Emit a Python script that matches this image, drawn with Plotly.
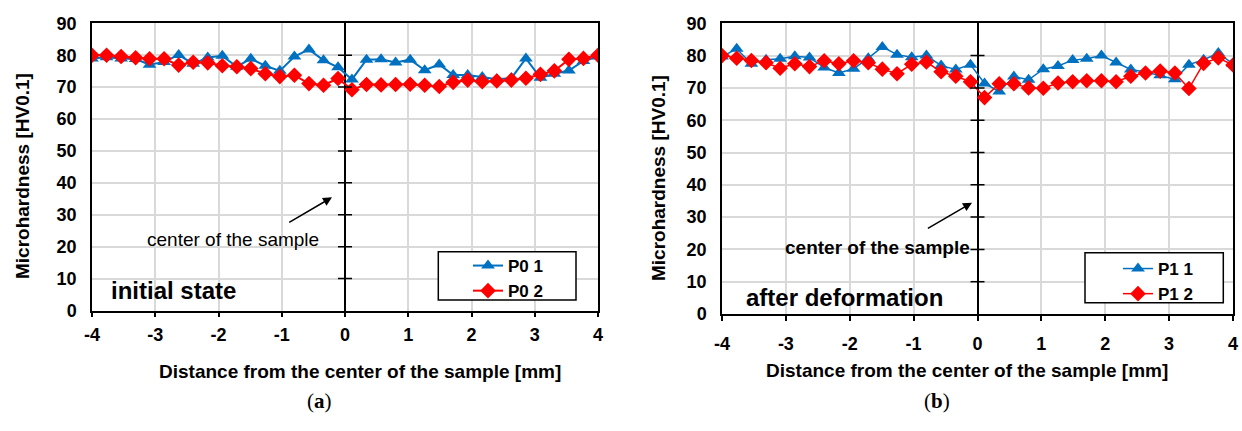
import plotly.graph_objects as go

# ---------------- data ----------------
X_MM = [-4.00, -3.77, -3.54, -3.31, -3.09, -2.86, -2.63, -2.40, -2.17, -1.94,
        -1.71, -1.49, -1.26, -1.03, -0.80, -0.57, -0.34, -0.11, 0.11, 0.34,
        0.57, 0.80, 1.03, 1.26, 1.49, 1.71, 1.94, 2.17, 2.40, 2.63,
        2.86, 3.09, 3.31, 3.54, 3.77, 4.00]

P0_1 = [79.0, 79.4, 79.0, 78.8, 77.0, 77.9, 80.1, 77.3, 79.3, 79.8,
        76.4, 78.9, 76.7, 75.1, 79.6, 81.8, 78.4, 76.2, 72.4, 78.6,
        78.7, 77.7, 78.6, 75.3, 77.1, 73.8, 73.8, 73.2, 72.5, 72.8,
        79.0, 72.9, 74.2, 75.2, 78.2, 79.6]
P0_2 = [80.0, 80.0, 79.6, 79.2, 78.9, 78.9, 76.9, 77.8, 77.6, 76.7,
        76.4, 75.8, 74.2, 73.3, 73.7, 71.1, 70.6, 72.7, 69.2, 70.8,
        70.7, 70.8, 70.9, 70.6, 70.2, 71.5, 72.2, 71.7, 71.9, 72.2,
        72.8, 74.0, 75.1, 78.7, 79.0, 80.0]

P1_1 = [79.7, 82.1, 77.5, 78.7, 79.0, 79.8, 79.4, 76.3, 74.6, 75.9,
        79.2, 82.7, 80.3, 79.5, 80.0, 76.9, 75.7, 77.2, 71.4, 68.9,
        73.5, 72.5, 75.8, 76.8, 78.6, 79.0, 80.0, 77.9, 75.7, 74.9,
        73.9, 72.7, 77.2, 78.7, 80.8, 77.4]
P1_2 = [80.0, 79.2, 78.5, 77.8, 76.1, 77.5, 76.6, 78.4, 77.5, 78.4,
        77.8, 75.8, 74.4, 77.3, 78.0, 75.0, 73.6, 71.9, 67.0, 71.3,
        71.3, 70.0, 69.9, 71.5, 71.9, 72.2, 72.2, 71.9, 73.6, 74.6,
        75.2, 74.6, 69.8, 77.6, 79.3, 77.1]

NAMES_A = ["P0 1", "P0 2"]
NAMES_B = ["P1 1", "P1 2"]
X_TICKS = [-4, -3, -2, -1, 0, 1, 2, 3, 4]
X_TICK_LABELS = ["-4", "-3", "-2", "-1", "0", "1", "2", "3", "4"]
CENTER_TICKS = [10, 20, 30, 40, 50, 60, 70, 80]

# ---------------- layout helpers ----------------
W, H = 1242, 431
def fx(p):
    return p / W
def fy(p):
    return 1 - p / H

FONT = "Liberation Sans, Arial, sans-serif"
SERIF = "Liberation Serif, Times New Roman, serif"
BLUE = "#0070C0"
RED = "#FF0000"

fig = go.Figure()

def add_series(x, y, name, color, symbol, xa, ya, legend, lw):
    fig.add_trace(go.Scatter(
        x=x, y=y, name=name, mode="lines+markers",
        line=dict(color=color, width=lw),
        marker=dict(symbol=symbol, size=12, color=color, line=dict(width=0)),
        xaxis=xa, yaxis=ya, legend=legend, hoverinfo="skip"))

add_series(X_MM, P0_1, NAMES_A[0], BLUE, "triangle-up", "x", "y", "legend", 2)
add_series(X_MM, P0_2, NAMES_A[1], RED, "diamond", "x", "y", "legend", 2)
add_series(X_MM, P1_1, NAMES_B[0], BLUE, "triangle-up", "x2", "y2", "legend2", 1.5)
add_series(X_MM, P1_2, NAMES_B[1], RED, "diamond", "x2", "y2", "legend2", 1.5)

# cross tick marks on the central (x = 0) axis
for xa, ya in (("x", "y"), ("x2", "y2")):
    fig.add_trace(go.Scatter(
        x=[0] * len(CENTER_TICKS), y=CENTER_TICKS, mode="markers",
        marker=dict(symbol="line-ew", size=10, line=dict(width=1.5, color="black")),
        xaxis=xa, yaxis=ya, showlegend=False, hoverinfo="skip"))

tickfont = dict(family=FONT, size=18, color="black", weight="bold")

def xaxis(domain, anchor, standoff):
    return dict(domain=domain, anchor=anchor, range=[-4, 4],
                tickmode="array", tickvals=X_TICKS, ticktext=X_TICK_LABELS,
                showgrid=True, gridcolor="#d9d9d9", gridwidth=1.5,
                zeroline=True, zerolinecolor="black", zerolinewidth=2,
                showline=True, linecolor="black", linewidth=1.5, mirror=True,
                ticks="outside", ticklen=5, tickwidth=1.5, tickcolor="black",
                tickfont=tickfont, ticklabelstandoff=standoff, fixedrange=True)

def yaxis(domain, anchor):
    return dict(domain=domain, anchor=anchor, range=[0, 90], dtick=10, tick0=0,
                showgrid=True, gridcolor="#d9d9d9", gridwidth=1.5,
                zeroline=False, showline=True, linecolor="black", linewidth=1.5,
                mirror=True, ticks="", tickfont=tickfont, ticklabelstandoff=10,
                fixedrange=True)

legend_font = dict(family=FONT, size=17, color="black", weight="bold")

fig.update_layout(
    width=W, height=H, template="none",
    margin=dict(l=0, r=0, t=0, b=0),
    paper_bgcolor="white", plot_bgcolor="white",
    xaxis=xaxis([fx(92), fx(598)], "y", 2),
    yaxis=yaxis([fy(310.5), fy(23.3)], "x"),
    xaxis2=xaxis([fx(722), fx(1233)], "y2", 8),
    yaxis2=yaxis([fy(314), fy(23.3)], "x2"),
    legend=dict(x=fx(468), y=fy(248), xanchor="left", yanchor="top",
                bgcolor="rgba(0,0,0,0)", borderwidth=0, font=legend_font,
                itemwidth=30),
    legend2=dict(x=fx(1118), y=fy(251), xanchor="left", yanchor="top",
                 bgcolor="rgba(0,0,0,0)", borderwidth=0, font=legend_font,
                 itemwidth=30),
    shapes=[
        dict(type="rect", xref="paper", yref="paper", layer="above",
             x0=fx(438.3), x1=fx(576), y0=fy(300), y1=fy(251.7),
             line=dict(color="black", width=1.5), fillcolor="white"),
        dict(type="rect", xref="paper", yref="paper", layer="above",
             x0=fx(1085), x1=fx(1223.3), y0=fy(302.7), y1=fy(252.7),
             line=dict(color="black", width=1.5), fillcolor="white"),
    ],
)

def text_ann(x, y, text, size, bold=True, angle=0, family=FONT, xanchor="center"):
    return dict(x=fx(x), y=fy(y), xref="paper", yref="paper", text=text,
                showarrow=False, textangle=angle, xanchor=xanchor, yanchor="middle",
                font=dict(family=family, size=size, color="black",
                          weight="bold" if bold else "normal"))

def arrow_ann(x_head, y_head, x_tail, y_tail):
    return dict(x=fx(x_head), y=fy(y_head), xref="paper", yref="paper", text="",
                showarrow=True, ax=x_tail - x_head, ay=y_tail - y_head,
                arrowhead=2, arrowsize=1.2, arrowwidth=1.5, arrowcolor="black")

annotations = [
    # axis titles
    text_ann(22, 176, "Microhardness [HV0.1]", 19, angle=-90),
    text_ann(658, 178, "Microhardness [HV0.1]", 19, angle=-90),
    text_ann(360, 371, "Distance from the center of the sample [mm]", 19),
    text_ann(967, 370, "Distance from the center of the sample [mm]", 19),
    # state labels
    text_ann(173, 290, "initial state", 24),
    text_ann(844, 297, "after deformation", 24),
    # center notes
    text_ann(233, 239, "center of the sample", 19, bold=False),
    text_ann(972, 247, "center of the sample", 19, xanchor="right"),
    arrow_ann(332, 197.3, 287.7, 223.3),
    arrow_ann(972, 202.7, 926.4, 229.3),
    # panel captions
    dict(x=fx(305), y=fy(415), xref="paper", yref="paper", showarrow=False,
         text="(<b>a</b>)", font=dict(family=SERIF, size=21, color="black")),
    dict(x=fx(952), y=fy(415), xref="paper", yref="paper", showarrow=False,
         text="(<b>b</b>)", font=dict(family=SERIF, size=21, color="black")),
]
fig.update_layout(annotations=annotations)

fig.write_html("out.html")
